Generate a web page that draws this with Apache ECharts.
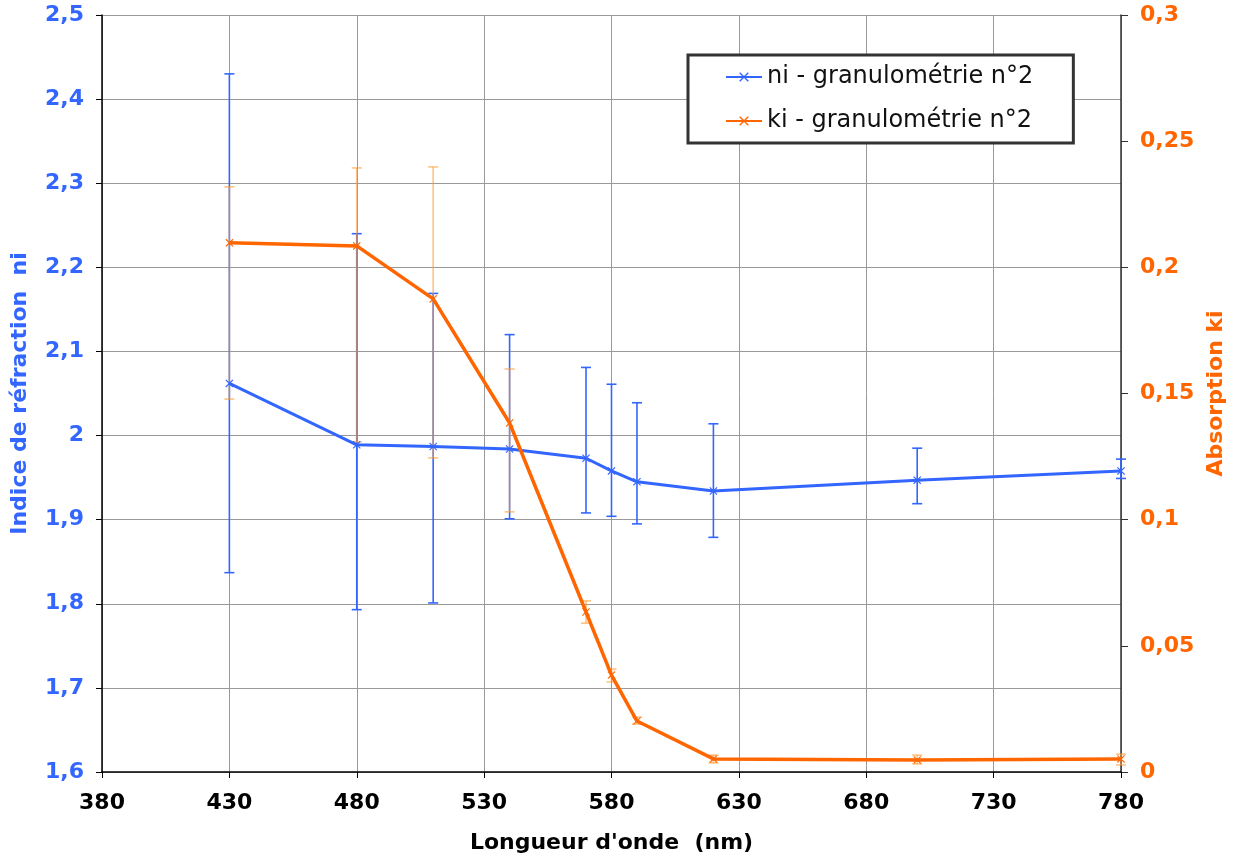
<!DOCTYPE html>
<html>
<head>
<meta charset="utf-8">
<script src="https://cdn.jsdelivr.net/npm/echarts@6/dist/echarts.min.js"></script>
<style>
html,body{margin:0;padding:0;background:#fff;}
#chart{width:1234px;height:861px;}
</style>
</head>
<body>
<div id="chart"></div>
<script>
// Data
const wavelengths = [430, 480, 510, 540, 570, 580, 590, 620, 700, 780];
const niValues = [2.062, 1.989, 1.987, 1.984, 1.973, 1.958, 1.945, 1.934, 1.947, 1.958];
const niLow    = [1.837, 1.793, 1.801, 1.901, 1.908, 1.904, 1.895, 1.879, 1.919, 1.949];
const niHigh   = [2.430, 2.240, 2.169, 2.120, 2.081, 2.061, 2.039, 2.014, 1.985, 1.972];
const kiValues = [0.2097, 0.2085, 0.1875, 0.1383, 0.0634, 0.0384, 0.0202, 0.0052, 0.0048, 0.0052];
const kiLow    = [0.1478, 0.1308, 0.1245, 0.1031, 0.0590, 0.0357, 0.0190, 0.0036, 0.0032, 0.0028];
const kiHigh   = [0.2319, 0.2394, 0.2398, 0.1597, 0.0678, 0.0408, 0.0218, 0.0067, 0.0067, 0.0071];
const leftTicks = {min: 1.6, max: 2.5, step: 0.1};
const rightTicks = {min: 0, max: 0.3, step: 0.05};
const xTicks = {min: 380, max: 780, step: 50};

const BLUE = '#3366FF';
const ORANGE = '#FF6600';
const FONT = 'DejaVu Sans';
const XMARK = 'path://M0,1 L1,0 L5,4 L9,0 L10,1 L6,5 L10,9 L9,10 L5,6 L1,10 L0,9 L4,5 Z';

const niPts = wavelengths.map((w, i) => [w, niValues[i]]);
const kiPts = wavelengths.map((w, i) => [w, kiValues[i]]);
const niErr = wavelengths.map((w, i) => [w, niLow[i], niHigh[i]]);
const kiErr = wavelengths.map((w, i) => [w, kiLow[i], kiHigh[i]]);

function errRender(color, opacity, capHalf) {
  return function (params, api) {
    const x = api.value(0);
    const lo = api.coord([x, api.value(1)]);
    const hi = api.coord([x, api.value(2)]);
    const style = {stroke: color, lineWidth: 1.6, opacity: opacity};
    return {
      type: 'group',
      children: [
        {type: 'line', shape: {x1: lo[0], y1: lo[1], x2: hi[0], y2: hi[1]}, style: style},
        {type: 'line', shape: {x1: lo[0] - capHalf, y1: lo[1], x2: lo[0] + capHalf, y2: lo[1]}, style: style},
        {type: 'line', shape: {x1: hi[0] - capHalf, y1: hi[1], x2: hi[0] + capHalf, y2: hi[1]}, style: style}
      ]
    };
  };
}

const fmt = v => String(Math.round(v * 1000) / 1000).replace('.', ',');

const chart = echarts.init(document.getElementById('chart'));
chart.setOption({
  animation: false,
  backgroundColor: '#fff',
  grid: {left: 102, right: 113, top: 15, bottom: 89, show: false, containLabel: false, outerBoundsMode: 'none'},
  legend: {
    left: 688, top: 55,
    orient: 'vertical',
    backgroundColor: '#fff',
    borderColor: '#333',
    borderWidth: 3,
    borderRadius: 0,
    padding: [10, 40, 10, 37],
    itemGap: 20,
    itemWidth: 36,
    itemHeight: 12,
    textStyle: {fontFamily: FONT, fontSize: 24, color: '#111'},
    data: ['ni - granulométrie n°2', 'ki - granulométrie n°2']
  },
  xAxis: {
    type: 'value',
    min: xTicks.min, max: xTicks.max, interval: xTicks.step,
    name: "Longueur d'onde  (nm)",
    nameLocation: 'middle',
    nameGap: 60,
    nameMoveOverlap: false,
    nameTextStyle: {fontFamily: FONT, fontWeight: 'bold', fontSize: 22, color: '#000'},
    axisLine: {show: true, onZero: false, lineStyle: {color: '#000', width: 1.5}},
    axisTick: {show: true, length: 6, inside: false, lineStyle: {color: '#000'}},
    axisLabel: {fontFamily: FONT, fontWeight: 'bold', fontSize: 22, color: '#000', margin: 20,
      padding: [0, 0, 0, 0]},
    splitLine: {show: true, lineStyle: {color: '#999', width: 1}}
  },
  yAxis: [
    {
      type: 'value', position: 'left',
      min: leftTicks.min, max: leftTicks.max, interval: leftTicks.step,
      name: 'Indice de réfraction  ni',
      nameLocation: 'middle', nameGap: 71, nameRotate: 90,
      nameTextStyle: {fontFamily: FONT, fontWeight: 'bold', fontSize: 22, color: BLUE},
      axisLine: {show: true, lineStyle: {color: '#000', width: 1.5}},
      axisTick: {show: true, length: 6, lineStyle: {color: '#000'}},
      axisLabel: {fontFamily: FONT, fontWeight: 'bold', fontSize: 22, color: BLUE, margin: 18, formatter: fmt},
      splitLine: {show: true, lineStyle: {color: '#999', width: 1}}
    },
    {
      type: 'value', position: 'right',
      min: rightTicks.min, max: rightTicks.max, interval: rightTicks.step,
      name: 'Absorption ki',
      nameLocation: 'middle', nameGap: 83, nameRotate: 90,
      nameTextStyle: {fontFamily: FONT, fontWeight: 'bold', fontSize: 22, color: ORANGE},
      axisLine: {show: true, lineStyle: {color: '#333', width: 1.5}},
      axisTick: {show: true, length: 7, inside: false, lineStyle: {color: '#333'}},
      axisLabel: {fontFamily: FONT, fontWeight: 'bold', fontSize: 22, color: ORANGE, margin: 19, formatter: fmt},
      splitLine: {show: false}
    }
  ],
  series: [
    {
      type: 'custom', name: 'ni err', yAxisIndex: 0, data: niErr,
      renderItem: errRender(BLUE, 1, 5), silent: true, z: 2,
      encode: {x: 0, y: [1, 2]}
    },
    {
      type: 'custom', name: 'ki err', yAxisIndex: 1, data: kiErr,
      renderItem: errRender('#FF9A2E', 0.6, 5), silent: true, z: 3,
      encode: {x: 0, y: [1, 2]}
    },
    {
      type: 'line', name: 'ni - granulométrie n°2', yAxisIndex: 0, data: niPts,
      color: BLUE,
      lineStyle: {color: BLUE, width: 3},
      symbol: XMARK, symbolSize: 8, showAllSymbol: true,
      itemStyle: {color: BLUE},
      z: 4
    },
    {
      type: 'line', name: 'ki - granulométrie n°2', yAxisIndex: 1, data: kiPts,
      color: ORANGE,
      lineStyle: {color: ORANGE, width: 3.5},
      symbol: XMARK, symbolSize: 8, showAllSymbol: true,
      itemStyle: {color: ORANGE},
      z: 5
    }
  ]
});
</script>
</body>
</html>
